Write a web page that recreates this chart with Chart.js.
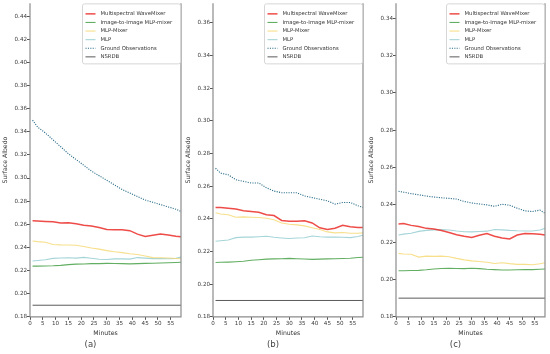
<!DOCTYPE html>
<html>
<head>
<meta charset="utf-8">
<script src="https://cdn.jsdelivr.net/npm/chart.js@4.4.1/dist/chart.umd.min.js"></script>
<style>
  body { margin: 0; background: #fff; width: 550px; height: 354px; position: relative; overflow: hidden; }
  canvas { position: absolute; top: 0; }
</style>
</head>
<body>
<canvas id="chart-a" width="186" height="354" style="left:0px"></canvas>
<canvas id="chart-b" width="185" height="354" style="left:183px"></canvas>
<canvas id="chart-c" width="184" height="354" style="left:366px"></canvas>
<script>
const seriesNames = ['Multispectral WaveMixer', 'Image-to-Image MLP-mixer', 'MLP-Mixer', 'MLP', 'Ground Observations', 'NSRDB'];
const minutes = [1, 3, 6, 9, 12, 15, 18, 21, 24, 27, 30, 33, 36, 39, 42, 45, 48, 51, 54, 57, 59];
const nsrdbMinutes = [1, 59];
const xTickStep = 5;
const yTickStep = 0.02;
const yMin = 0.18;

// (a)
const waveMixerA = [0.2630, 0.2628, 0.2625, 0.2622, 0.2612, 0.2614, 0.2605, 0.2592, 0.2585, 0.2572, 0.2555, 0.2552, 0.2553, 0.2545, 0.2515, 0.2495, 0.2505, 0.2515, 0.2508, 0.2497, 0.2493];
const i2iMixerA = [0.2238, 0.2238, 0.2239, 0.2241, 0.2245, 0.2251, 0.2255, 0.2257, 0.2260, 0.2260, 0.2262, 0.2261, 0.2260, 0.2258, 0.2260, 0.2262, 0.2263, 0.2265, 0.2267, 0.2269, 0.2271];
const mlpMixerA = [0.2455, 0.2450, 0.2445, 0.2425, 0.2422, 0.2421, 0.2418, 0.2408, 0.2395, 0.2385, 0.2372, 0.2362, 0.2355, 0.2345, 0.2338, 0.2325, 0.2312, 0.2310, 0.2308, 0.2304, 0.2302];
const mlpA = [0.2282, 0.2287, 0.2293, 0.2305, 0.2309, 0.2310, 0.2307, 0.2314, 0.2306, 0.2298, 0.2296, 0.2301, 0.2301, 0.2299, 0.2312, 0.2307, 0.2303, 0.2304, 0.2302, 0.2305, 0.2316];
const groundA = [0.350, 0.344, 0.339, 0.333, 0.327, 0.321, 0.316, 0.311, 0.306, 0.302, 0.298, 0.294, 0.290, 0.287, 0.284, 0.281, 0.279, 0.277, 0.275, 0.273, 0.271];
const nsrdbA = [0.19, 0.19];

// (b)
const waveMixerB = [0.2470, 0.2470, 0.2465, 0.2460, 0.2450, 0.2445, 0.2440, 0.2425, 0.2420, 0.2390, 0.2385, 0.2385, 0.2388, 0.2375, 0.2345, 0.2335, 0.2342, 0.2360, 0.2352, 0.2347, 0.2347];
const i2iMixerB = [0.2133, 0.2134, 0.2135, 0.2137, 0.2140, 0.2146, 0.2149, 0.2153, 0.2155, 0.2156, 0.2158, 0.2156, 0.2154, 0.2152, 0.2153, 0.2155, 0.2156, 0.2157, 0.2159, 0.2163, 0.2165];
const mlpMixerB = [0.2437, 0.2430, 0.2425, 0.2410, 0.2412, 0.2410, 0.2408, 0.2404, 0.2395, 0.2375, 0.2367, 0.2363, 0.2357, 0.2346, 0.2335, 0.2320, 0.2314, 0.2316, 0.2312, 0.2312, 0.2314];
const mlpB = [0.2263, 0.2266, 0.2270, 0.2285, 0.2288, 0.2288, 0.2290, 0.2293, 0.2287, 0.2283, 0.2280, 0.2283, 0.2284, 0.2295, 0.2290, 0.2288, 0.2288, 0.2287, 0.2285, 0.2292, 0.2300];
const groundB = [0.271, 0.268, 0.267, 0.264, 0.263, 0.262, 0.262, 0.259, 0.257, 0.256, 0.256, 0.256, 0.254, 0.253, 0.252, 0.251, 0.249, 0.250, 0.250, 0.248, 0.247];
const nsrdbB = [0.19, 0.19];

// (c)
const waveMixerC = [0.2298, 0.2300, 0.2290, 0.2284, 0.2274, 0.2270, 0.2262, 0.2252, 0.2240, 0.2232, 0.2225, 0.2237, 0.2246, 0.2232, 0.2222, 0.2217, 0.2238, 0.2247, 0.2245, 0.2242, 0.2239];
const i2iMixerC = [0.2047, 0.2047, 0.2048, 0.2049, 0.2052, 0.2056, 0.2059, 0.2060, 0.2059, 0.2058, 0.2060, 0.2058, 0.2055, 0.2053, 0.2051, 0.2051, 0.2052, 0.2053, 0.2053, 0.2055, 0.2056];
const mlpMixerC = [0.2140, 0.2137, 0.2135, 0.2120, 0.2125, 0.2124, 0.2125, 0.2122, 0.2113, 0.2105, 0.2100, 0.2096, 0.2092, 0.2086, 0.2090, 0.2085, 0.2081, 0.2081, 0.2079, 0.2084, 0.2090];
const mlpC = [0.2238, 0.2243, 0.2248, 0.2258, 0.2263, 0.2266, 0.2267, 0.2265, 0.2260, 0.2256, 0.2255, 0.2257, 0.2259, 0.2268, 0.2266, 0.2263, 0.2261, 0.2260, 0.2260, 0.2265, 0.2274];
const groundC = [0.2473, 0.2468, 0.2460, 0.2454, 0.2447, 0.2442, 0.2438, 0.2435, 0.2431, 0.2418, 0.2410, 0.2405, 0.2400, 0.2392, 0.2403, 0.2398, 0.2382, 0.2368, 0.2364, 0.2372, 0.2355];
const nsrdbC = [0.19, 0.19];

const font = 'DejaVu Sans';
const seriesStyles = [
    { borderColor: 'rgba(235,45,40,0.85)', borderWidth: 1.5 },
    { borderColor: 'rgba(70,160,70,0.85)', borderWidth: 1.1 },
    { borderColor: 'rgba(245,215,110,0.8)', borderWidth: 1.1 },
    { borderColor: '#a6d5d8', borderWidth: 1.1 },
    { borderColor: '#2a6c88', borderWidth: 1.1, borderDash: [1.1, 1.3] },
    { borderColor: '#5a5a5a', borderWidth: 1 }
];

function toPoints(xs, ys) {
    return ys.map((y, i) => ({ x: xs[i], y: y }));
}

// spines: left, right, bottom
const framePlugin = {
    id: 'frame',
    afterDatasetsDraw(chart) {
        const { ctx, chartArea: a } = chart;
        ctx.save();
        ctx.strokeStyle = '#8c8c8c';
        ctx.lineWidth = 1.2;
        ctx.beginPath();
        ctx.moveTo(a.left, a.top);
        ctx.lineTo(a.left, a.bottom);
        ctx.lineTo(a.right, a.bottom);
        ctx.lineTo(a.right, a.top);
        ctx.stroke();
        ctx.restore();
    }
};

// matplotlib-like legend box in the upper right
const insetLegend = {
    id: 'insetLegend',
    afterDraw(chart) {
        const { ctx, chartArea: a } = chart;
        const w = 98, h = 60;
        const left = a.right - w - 0.5, top = a.top + 0.5;
        ctx.save();
        ctx.fillStyle = 'rgba(255,255,255,0.85)';
        ctx.strokeStyle = '#d6d6d6';
        ctx.lineWidth = 1;
        ctx.beginPath();
        ctx.roundRect(left, top, w, h, 2);
        ctx.fill();
        ctx.stroke();
        ctx.font = '5.3px "' + font + '"';
        ctx.textBaseline = 'middle';
        chart.data.datasets.forEach((ds, i) => {
            const y = top + 10 + i * 8.6;
            ctx.strokeStyle = ds.borderColor;
            ctx.lineWidth = ds.borderWidth;
            ctx.setLineDash(ds.borderDash || []);
            ctx.beginPath();
            ctx.moveTo(left + 3, y);
            ctx.lineTo(left + 13, y);
            ctx.stroke();
            ctx.setLineDash([]);
            ctx.fillStyle = '#333';
            ctx.fillText(ds.label, left + 18, y);
        });
        ctx.restore();
    }
};

function makePanel(canvasId, caption, yMax, series) {
    const datasets = series.map((s, i) => Object.assign({
        label: seriesNames[i],
        data: toPoints(i == 5 ? nsrdbMinutes : minutes, s),
        pointRadius: 0,
        tension: 0,
        fill: false
    }, seriesStyles[i]));

    const ctx = document.getElementById(canvasId).getContext('2d');
    return new Chart(ctx, {
        type: 'line',
        data: { datasets: datasets },
        options: {
            responsive: false,
            animation: false,
            layout: { padding: { left: 0, right: 5, top: 2, bottom: 0 } },
            scales: {
                x: {
                    type: 'linear',
                    min: 0,
                    max: 59,
                    afterFit: (scale) => { scale.height = 21; },
                    border: { display: false },
                    grid: { drawOnChartArea: false, drawTicks: true, tickLength: 3, color: '#555' },
                    ticks: {
                        stepSize: xTickStep,
                        includeBounds: false,
                        autoSkip: false,
                        maxRotation: 0,
                        padding: 0,
                        color: '#3a3a3a',
                        font: { family: font, size: 5.6 }
                    },
                    title: {
                        display: true,
                        text: 'Minutes',
                        color: '#333',
                        padding: { top: 0, bottom: 1 },
                        font: { family: font, size: 6.2 }
                    }
                },
                y: {
                    min: yMin,
                    max: yMax,
                    afterFit: (scale) => { scale.width = 30; },
                    border: { display: false },
                    grid: { drawOnChartArea: false, drawTicks: true, tickLength: 3, color: '#555' },
                    ticks: {
                        stepSize: yTickStep,
                        includeBounds: false,
                        autoSkip: false,
                        padding: 0,
                        color: '#3a3a3a',
                        font: { family: font, size: 5.6 },
                        callback: (v) => v.toFixed(2)
                    },
                    title: {
                        display: true,
                        text: 'Surface Albedo',
                        color: '#333',
                        padding: { top: 2, bottom: 0 },
                        font: { family: font, size: 6.2 }
                    }
                }
            },
            plugins: {
                legend: { display: false },
                tooltip: { enabled: false },
                title: {
                    display: true,
                    text: caption,
                    position: 'bottom',
                    color: '#444',
                    padding: { top: 2, bottom: 4 },
                    font: { family: font, size: 8.5, weight: 'normal', lineHeight: 1.2 }
                }
            }
        },
        plugins: [framePlugin, insetLegend]
    });
}

makePanel('chart-a', '(a)', 0.451, [waveMixerA, i2iMixerA, mlpMixerA, mlpA, groundA, nsrdbA]);
makePanel('chart-b', '(b)', 0.372, [waveMixerB, i2iMixerB, mlpMixerB, mlpB, groundB, nsrdbB]);
makePanel('chart-c', '(c)', 0.348, [waveMixerC, i2iMixerC, mlpMixerC, mlpC, groundC, nsrdbC]);
</script>
</body>
</html>
